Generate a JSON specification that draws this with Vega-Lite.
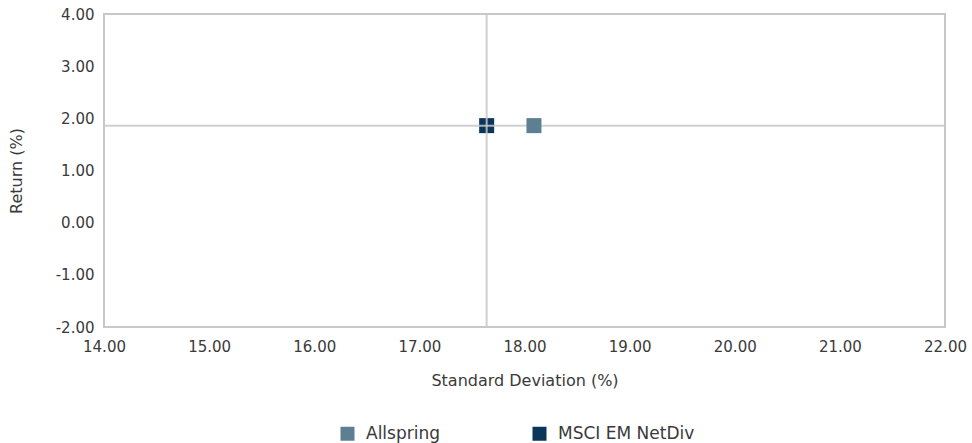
{
  "$schema": "https://vega.github.io/schema/vega-lite/v6.json",
  "autosize": {"type": "none"},
  "width": 841,
  "height": 313,
  "padding": {"left": 104, "top": 14, "right": 27, "bottom": 116},
  "background": "white",
  "config": {
    "font": "DejaVu Sans",
    "view": {"stroke": "#c8c8c8", "strokeWidth": 2},
    "axis": {
      "grid": false,
      "ticks": false,
      "domain": false,
      "labelOverlap": false,
      "labelFont": "DejaVu Sans",
      "labelFontSize": 15,
      "labelColor": "#3a3a3a",
      "titleFont": "DejaVu Sans",
      "titleFontSize": 16,
      "titleFontWeight": "normal",
      "titleColor": "#3a3a3a"
    }
  },
  "data": {
    "values": [
      {"series": "Allspring", "sd": 18.09, "ret": 1.86},
      {"series": "MSCI EM NetDiv", "sd": 17.64, "ret": 1.86}
    ]
  },
  "encoding": {
    "x": {
      "field": "sd", "type": "quantitative",
      "scale": {"domain": [14, 22], "nice": false, "zero": false},
      "axis": {"title": "Standard Deviation (%)", "format": ".2f", "values": [14,15,16,17,18,19,20,21,22], "labelPadding": 12, "titlePadding": 18, "titleLetterSpacing": 1, "labelFlush": false, "labelExpr": "replace(datum.label, '\u2212', '-')"}
    },
    "y": {
      "field": "ret", "type": "quantitative",
      "scale": {"domain": [-2, 4], "nice": false, "zero": false},
      "axis": {"title": "Return (%)", "format": ".2f", "values": [-2,-1,0,1,2,3,4], "labelPadding": 10, "titlePadding": 31, "titleLetterSpacing": 1, "labelFlush": false, "labelExpr": "replace(datum.label, '\u2212', '-')"}
    }
  },
  "layer": [
    {
      "transform": [{"filter": "datum.series === 'MSCI EM NetDiv'"}],
      "mark": {"type": "point", "shape": "square", "filled": true, "size": 225, "opacity": 1},
      "encoding": {
        "color": {
          "field": "series", "type": "nominal",
          "scale": {"domain": ["Allspring", "MSCI EM NetDiv"], "range": ["#5d7f93", "#0c355a"]},
          "legend": {
            "title": null,
            "orient": "none",
            "direction": "horizontal",
            "legendX": 235,
            "legendY": 411,
            "symbolType": "square",
            "symbolSize": 196,
            "symbolStrokeWidth": 0,
            "labelFont": "DejaVu Sans",
            "labelFontSize": 17,
            "labelColor": "#3a3a3a",
            "labelOffset": 10,
            "columnPadding": 90
          }
        }
      }
    },
    {
      "transform": [{"filter": "datum.series === 'MSCI EM NetDiv'"}],
      "mark": {"type": "rule", "color": "#c8c8c8", "strokeWidth": 2, "opacity": 0.85},
      "encoding": {"x": {"field": "sd", "type": "quantitative"}, "y": null}
    },
    {
      "transform": [{"filter": "datum.series === 'MSCI EM NetDiv'"}],
      "mark": {"type": "rule", "color": "#c8c8c8", "strokeWidth": 2, "opacity": 0.85},
      "encoding": {"y": {"field": "ret", "type": "quantitative"}, "x": null}
    },
    {
      "transform": [{"filter": "datum.series === 'Allspring'"}],
      "mark": {"type": "point", "shape": "square", "filled": true, "size": 225, "opacity": 1},
      "encoding": {
        "color": {"field": "series", "type": "nominal"}
      }
    }
  ]
}
